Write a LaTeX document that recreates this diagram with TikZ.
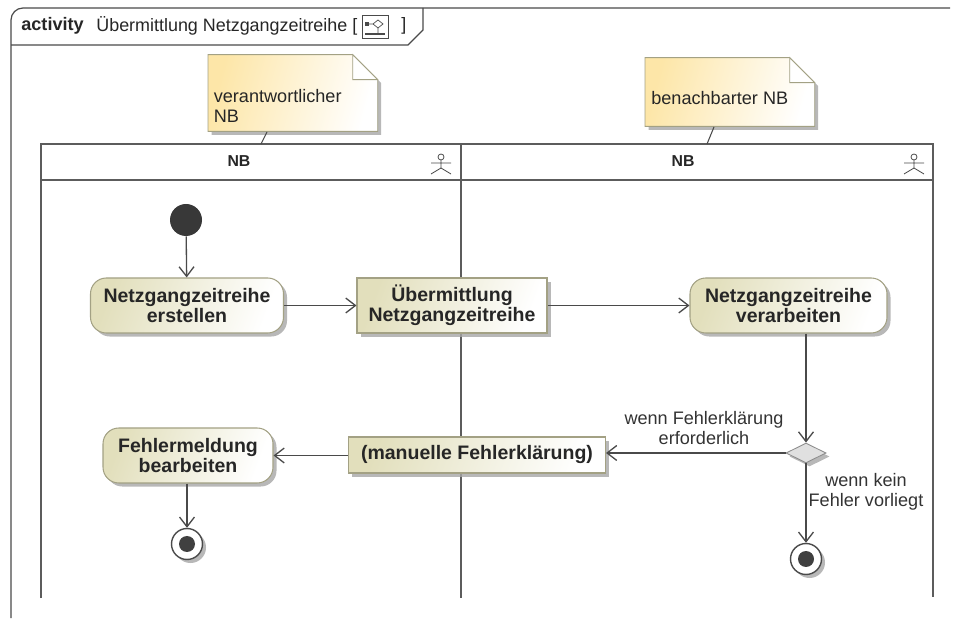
\documentclass[tikz,border=0pt]{standalone}
\usepackage{fontspec}
\setmainfont{Liberation Sans}
\usetikzlibrary{arrows.meta,shapes.geometric,shadows,backgrounds}
\definecolor{linegray}{HTML}{4A4A4A}
\definecolor{notegold}{HTML}{FDE6A8}
\definecolor{actionolive}{HTML}{E2DFBC}
\definecolor{edgeolive}{HTML}{A3A184}
\tikzset{
  flow/.style={draw=linegray, line width=0.75pt, -{Straight Barb[length=5.5pt,width=8.5pt]}},
  lane/.style={draw=linegray!90, line width=1.5pt},
  softshadow/.style={drop shadow={shadow xshift=2pt, shadow yshift=-2pt, fill=black!35, opacity=0.8}},
  action/.style={draw=edgeolive, line width=0.6pt, softshadow, left color=actionolive, right color=white, shading angle=70,
    font=\bfseries\fontsize{11.1pt}{11.6pt}\selectfont, align=center, text=black!85, inner sep=0pt},
  stepround/.style={action, rounded corners=9pt, minimum width=3.86cm, minimum height=1.1cm},
  stepsquare/.style={action, minimum height=1.1cm},
  notetext/.style={font=\fontsize{10.3pt}{11.3pt}\selectfont, align=left, text=black!85, inner sep=0pt},
  guard/.style={font=\fontsize{10.3pt}{11.5pt}\selectfont, align=center, text=black!80, inner sep=0pt},
  endring/.style={circle, draw=linegray, line width=0.8pt, fill=white, minimum size=0.62cm, inner sep=0pt, softshadow},
}
\begin{document}
\begin{tikzpicture}

        \useasboundingbox (0,0) rectangle (19.16,-12.48);

        %Frame
        \draw[linegray, line width=0.7pt] (0.22,-12.36) -- (0.22,-0.4) arc (180:90:0.24) -- (19,-0.16);
        \draw[linegray, line width=0.7pt] (0.22,-0.9) -- (8.16,-0.9) -- (8.46,-0.6) -- (8.46,-0.16);
        \node[anchor=west, inner sep=0pt, font=\bfseries\fontsize{10.3pt}{12pt}\selectfont, text=black!85] (frametag) at (0.42,-0.51) {activity};
        \node[anchor=west, inner sep=0pt, font=\fontsize{10.2pt}{12pt}\selectfont, text=black!85] (frametitle) at (1.92,-0.51) {Übermittlung Netzgangzeitreihe [};
        \node[anchor=west, inner sep=0pt, font=\fontsize{10.2pt}{12pt}\selectfont, text=black!85] (frameclose) at (8.02,-0.51) {]};

        %Frame icon
        \draw[linegray, line width=0.5pt] (7.24,-0.3) rectangle (7.76,-0.76);
        \fill[linegray] (7.3,-0.44) rectangle (7.38,-0.52);
        \draw[linegray, line width=0.4pt] (7.38,-0.48) -- (7.46,-0.48) (7.46,-0.48) -- (7.56,-0.4) -- (7.66,-0.48) -- (7.56,-0.56) -- cycle (7.56,-0.56) -- (7.56,-0.66);
        \fill[linegray] (7.3,-0.66) rectangle (7.7,-0.71);

        %Swimlanes
        \draw[lane] (0.82,-11.96) -- (0.82,-2.88) -- (18.66,-2.88) -- (18.66,-11.94);
        \draw[lane] (0.82,-3.6) -- (18.66,-3.6);
        \draw[lane] (9.22,-2.88) -- (9.22,-11.96);
        \node[font=\bfseries\fontsize{9pt}{10pt}\selectfont, text=black!85] (laneleft) at (4.78,-3.22) {NB};
        \node[font=\bfseries\fontsize{9pt}{10pt}\selectfont, text=black!85] (laneright) at (13.66,-3.22) {NB};

        %Actor icons
        \foreach \x in {8.82,18.28} {
            \draw[linegray, line width=0.45pt] (\x,-3.14) circle (0.06);
            \draw[linegray, line width=0.45pt] (\x,-3.2) -- (\x,-3.36) (\x-0.2,-3.26) -- (\x+0.2,-3.26) (\x-0.2,-3.48) -- (\x,-3.36) -- (\x+0.2,-3.48);
        }

        %Notes
        \node[notetext, anchor=west, minimum width=3.38cm, minimum height=1.52cm, text width=3.14cm] (noteleft) at (4.16,-1.86) {};
        \node[notetext, anchor=west, minimum width=3.38cm, minimum height=1.36cm, text width=3.14cm] (noteright) at (12.9,-1.84) {};
        \node[notetext, anchor=west] (textleft) at (4.27,-2.12) {verantwortlicher\\NB};
        \node[notetext, anchor=west] (textright) at (13.02,-1.96) {benachbarter NB};
        \begin{pgfonlayer}{background}
        \foreach \n in {noteleft,noteright} {
            \draw[draw=edgeolive, line width=0.5pt, softshadow, left color=notegold, right color=white, shading angle=75]
                (\n.north west) -- ([xshift=-0.5cm]\n.north east) -- ([yshift=-0.5cm]\n.north east) -- (\n.south east) -- (\n.south west) -- cycle;
            \draw[edgeolive, line width=0.5pt, fill=white] ([xshift=-0.5cm]\n.north east) -- ([xshift=-0.5cm,yshift=-0.5cm]\n.north east) -- ([yshift=-0.5cm]\n.north east) -- cycle;
        }
        \end{pgfonlayer}
        \coordinate (linkleft) at (5.22,-2.88);
        \coordinate (linkright) at (14.14,-2.88);
        \draw[linegray, line width=0.6pt] (5.34,-2.64) -- (linkleft);
        \draw[linegray, line width=0.6pt] (14.28,-2.54) -- (linkright);

        %Activities
        \node[circle, fill=black!78, minimum size=0.64cm, inner sep=0pt] (start) at (3.72,-4.4) {};
        \node[stepround] (create) at (3.74,-6.11) {Netzgangzeitreihe\\erstellen};
        \node[stepsquare, minimum width=3.8cm] (send) at (9.04,-6.11) {Übermittlung\\Netzgangzeitreihe};
        \node[stepround, minimum width=3.94cm] (process) at (15.77,-6.11) {Netzgangzeitreihe\\verarbeiten};
        \node[diamond, draw=black!45, fill=black!12, line width=0.5pt, minimum width=0.8cm, minimum height=0.4cm, inner sep=0pt, aspect=2, softshadow] (decide) at (16.12,-9.06) {};
        \node[stepsquare, minimum width=5.14cm, minimum height=0.72cm] (clarify) at (9.54,-9.1) {(manuelle Fehlerklärung)};
        \node[stepround, minimum width=3.4cm] (handle) at (3.76,-9.11) {Fehlermeldung\\bearbeiten};

        %End states
        \node[endring] (endleft) at (3.74,-10.88) {};
        \node[endring] (endright) at (16.12,-11.18) {};
        \fill[black!75] (endleft) circle (0.16);
        \fill[black!75] (endright) circle (0.16);

        %Edges
        \draw[flow] (start) -- (create);
        \draw[flow] (create) -- (send);
        \draw[flow] (send) -- (process);
        \draw[flow] (process.south -| decide) -- (decide);
        \draw[flow] (decide) -- (clarify.east |- decide);
        \draw[flow] (clarify.west |- handle) -- (handle);
        \draw[flow] (handle.south -| endleft) -- (endleft);
        \draw[flow] (decide) -- (endright);

        %Labels
        \node[guard] (guardyes) at (14.08,-8.56) {wenn Fehlerklärung\\erforderlich};
        \node[guard] (guardno) at (17.32,-9.84) {wenn kein\\Fehler vorliegt};

\end{tikzpicture}
\end{document}
